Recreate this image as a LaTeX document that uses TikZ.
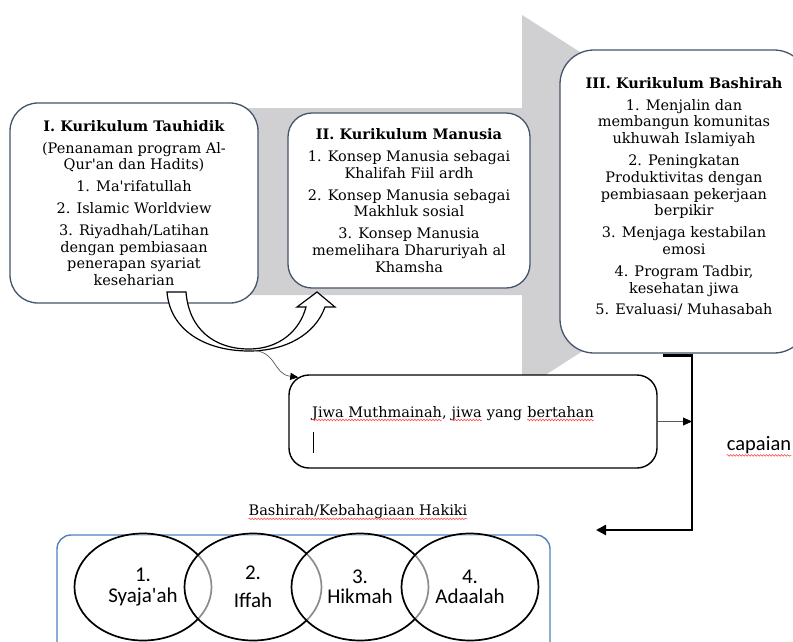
\documentclass[tikz,border=0pt]{standalone}
\usepackage{fontspec}
\setmainfont{DejaVu Serif}
\newfontfamily\calibri{Carlito}
\usetikzlibrary{arrows.meta, shapes.geometric, positioning, decorations.pathmorphing}

\definecolor{arrowgray}{RGB}{208,208,211}
\definecolor{boxline}{RGB}{68,84,106}
\definecolor{vennblue}{RGB}{79,129,189}

\begin{document}
\begin{tikzpicture}[x=1pt, y=-1pt,
  kbox/.style={draw=boxline, line width=1.3pt, fill=white, rounded corners=28pt,
    align=center, inner sep=4pt, font=\fontsize{14.5}{16.8}\selectfont},
  txt/.style={inner sep=0pt, anchor=base west, font=\fontsize{14.5}{16.8}\selectfont},
  wavy/.style={red!75, line width=0.5pt, decorate,
    decoration={snake, amplitude=0.9pt, segment length=3pt}},
  venn/.style={ellipse, draw=black, line width=1.7pt, fill=white, fill opacity=0.55,
    text opacity=1, minimum width=137pt, minimum height=107pt, align=center,
    font=\calibri\fontsize{21}{20.5}\selectfont}]

  \useasboundingbox (0,0) rectangle (793,641);
  \clip (0,0) rectangle (793,641);

  %% Background arrow
  \fill[arrowgray] (200,108) -- (522,108) -- (522,15) -- (815,202)
    -- (522,390) -- (522,295) -- (200,295) -- cycle;

  %% Curriculum boxes

  % Box I
  \node[kbox, minimum width=248pt, minimum height=200pt] (tauhid) at (134,203)
    {\textbf{I. Kurikulum Tauhidik}\\[5pt]
     (Penanaman program Al-\\Qur\textquotesingle an dan Hadits)\\[5pt]
     1. Ma\textquotesingle rifatullah\\[5pt]
     2. Islamic Worldview\\[5pt]
     3. Riyadhah/Latihan\\dengan pembiasaan\\penerapan syariat\\keseharian};

  % Box II
  \node[kbox, rounded corners=24pt, minimum width=242pt, minimum height=175pt] (manusia) at (409,200.5)
    {\textbf{II. Kurikulum Manusia}\\[5pt]
     1. Konsep Manusia sebagai\\Khalifah Fiil ardh\\[5pt]
     2. Konsep Manusia sebagai\\Makhluk sosial\\[5pt]
     3. Konsep Manusia\\memelihara Dharuriyah al\\Khamsha};

  % Box III
  \node[kbox, rounded corners=34pt, minimum width=248pt, minimum height=303pt] (bashirah) at (684,201.5)
    {\textbf{III. Kurikulum Bashirah}\\[5pt]
     1. Menjalin dan\\membangun komunitas\\ukhuwah Islamiyah\\[5pt]
     2. Peningkatan\\Produktivitas dengan\\pembiasaan pekerjaan\\berpikir\\[5pt]
     3. Menjaga kestabilan\\emosi\\[5pt]
     4. Program Tadbir,\\kesehatan jiwa\\[5pt]
     5. Evaluasi/ Muhasabah\\[-6pt]\mbox{}};

  % U-turn arrow from I to II
  \draw[line width=1.2pt, fill=white] (167,292) -- (186,292)
    .. controls (189,330) and (215,349) .. (249,349)
    .. controls (280,349) and (300,330) .. (306,307)
    -- (297,307) -- (317,292) -- (335,307) -- (325,307)
    .. controls (315,335) and (285,351) .. (249,351)
    .. controls (205,351) and (170,330) .. (167,292) -- cycle;
  \coordinate (uturn) at (249,350);

  %% Result

  % Jiwa box
  \node[draw=black, line width=1.4pt, fill=white, rounded corners=20pt,
    minimum width=368pt, minimum height=93pt] (jiwa) at (473,421.5) {};
  \node[txt] (jiwa1) at (312,417) {Jiwa Muthmainah,};
  \node[txt, xshift=4.6pt] (jiwa2) at (jiwa1.base east) {jiwa};
  \node[txt, xshift=4.6pt] (jiwa3) at (jiwa2.base east) {yang};
  \node[txt, xshift=4.6pt] (jiwa4) at (jiwa3.base east) {bertahan};
  \draw[wavy] ([yshift=-3pt]jiwa1.base west) -- ([xshift=-5pt, yshift=-3pt]jiwa1.base east);
  \draw[wavy] ([yshift=-3pt]jiwa2.base west) -- ([yshift=-3pt]jiwa2.base east);
  \draw[wavy] ([yshift=-3pt]jiwa4.base west) -- ([yshift=-3pt]jiwa4.base east);
  \draw[line width=0.6pt] (313,432) -- (313,453);

  \draw[black!65, line width=0.7pt, -{Triangle[color=black, length=8pt, width=7pt]}]
    (uturn) .. controls (278,350) and (272,374) .. ([xshift=10pt, yshift=-3pt]jiwa.north west);

  % capaian bracket
  \coordinate (bend) at (692,530);
  \coordinate (goal) at (596,530);
  \draw[line width=2.6pt, -{Triangle[length=10pt, width=10pt]}]
    ([xshift=-21pt, yshift=-2pt]bashirah.south) -| (bend) -- (goal);
  \draw[black!65, line width=0.8pt, -{Triangle[color=black, length=9pt, width=8pt]}]
    (jiwa.east) -- (jiwa.east -| bend);
  \node[inner sep=0pt, font=\calibri\fontsize{20.5}{20}\selectfont] (capaian) at (759,445) {capaian};
  \draw[wavy] ([yshift=-5pt]capaian.base west) -- ([yshift=-5pt]capaian.base east);

  %% Bashirah / Kebahagiaan Hakiki

  \node[inner sep=0pt, font=\fontsize{14.5}{16.8}\selectfont] (hakiki) at (358,512)
    {Bashirah/Kebahagiaan Hakiki};
  \draw[wavy] ([yshift=-3pt]hakiki.base west) -- ([yshift=-3pt]hakiki.base east);
  \draw[vennblue, line width=1.4pt, rounded corners=14pt] (57,535) rectangle (550,665);

  \node[venn] (syajaah) at (143,587) {1.\\Syaja\textquotesingle ah};
  \node[venn] (iffah)   at (253,587) {2.\\[8pt]Iffah};
  \node[venn] (hikmah)  at (360,587) {3.\\Hikmah};
  \node[venn] (adaalah) at (470,587) {4.\\Adaalah};

\end{tikzpicture}
\end{document}
